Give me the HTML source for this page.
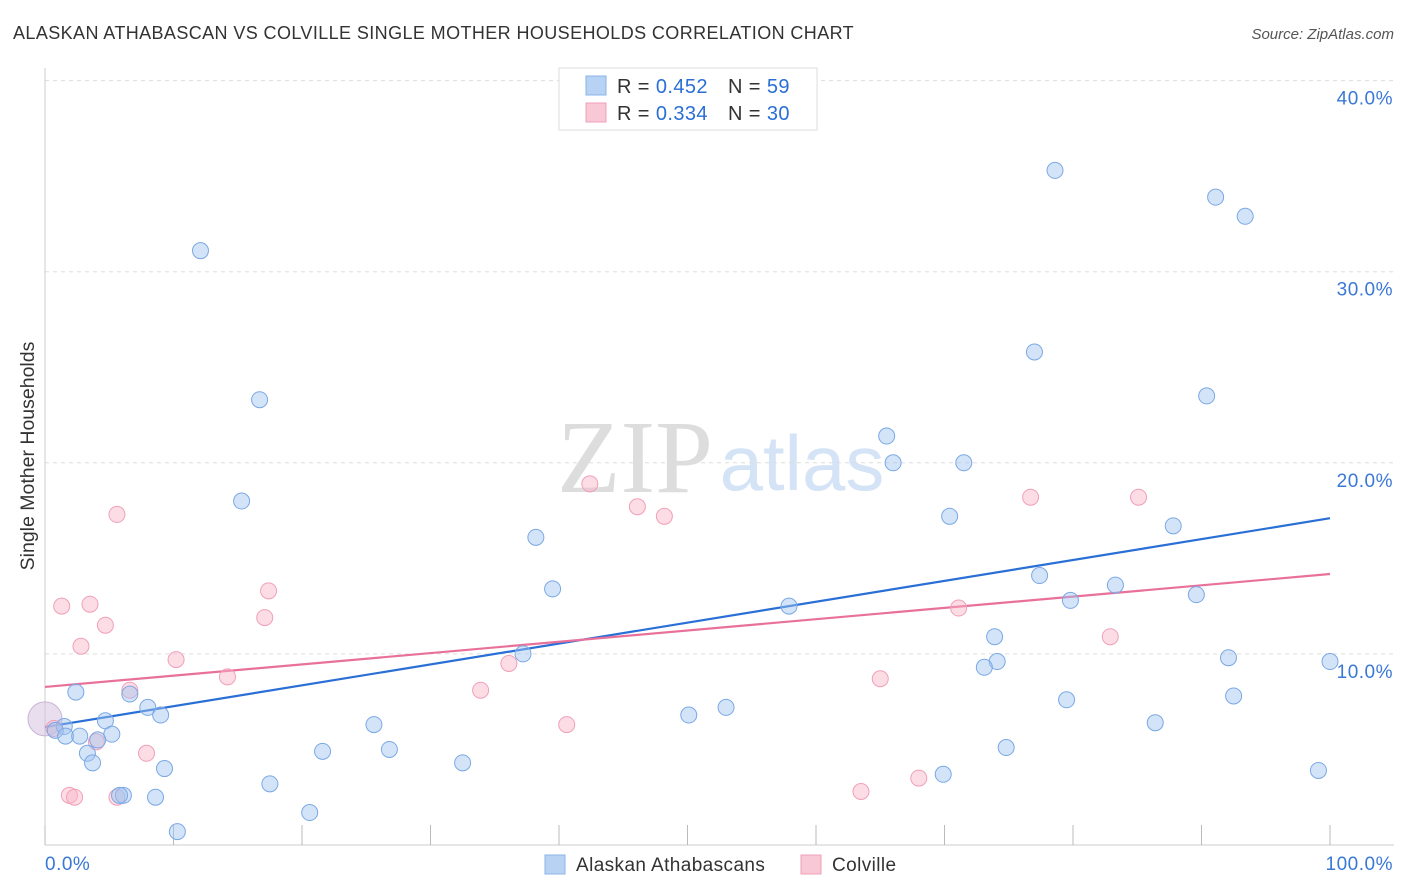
<!DOCTYPE html>
<html><head><meta charset="utf-8">
<style>
body{margin:0;background:#fff;font-family:"Liberation Sans",sans-serif;}
#wrap{position:relative;width:1406px;height:892px;overflow:hidden;}
</style></head>
<body>
<div id="wrap">
<svg id="chart" width="1406" height="892">
<text x="13" y="39" font-size="18" letter-spacing="0.4" fill="#333">ALASKAN ATHABASCAN VS COLVILLE SINGLE MOTHER HOUSEHOLDS CORRELATION CHART</text>
<text x="1394" y="39" font-size="15" fill="#555" text-anchor="end" font-style="italic">Source: ZipAtlas.com</text>
<text transform="translate(34,456) rotate(-90)" font-size="19.5" fill="#333" text-anchor="middle">Single Mother Households</text>
<text x="635" y="492" font-size="104" fill="#ddd" font-family="Liberation Serif,serif" text-anchor="middle">ZIP</text>
<text x="802" y="490" font-size="78" fill="#d4e3f5" text-anchor="middle">atlas</text>
<g id="grid"></g>
<g id="axes"></g>
<g id="trends"></g>
<g id="points"></g>
<g>
<rect x="559" y="68" width="258" height="62" fill="#fff" stroke="#ddd"/>
<rect x="586" y="76" width="20" height="19" fill="#b8d2f4" stroke="#8ab4e8"/>
<rect x="586" y="103" width="20" height="19" fill="#f9c8d6" stroke="#f0a0b8"/>
<text x="617" y="93" font-size="20" letter-spacing="0.4" fill="#333">R = <tspan fill="#2a6fd6">0.452</tspan></text>
<text x="728" y="93" font-size="20" letter-spacing="0.4" fill="#333">N = <tspan fill="#2a6fd6"> 59</tspan></text>
<text x="617" y="120" font-size="20" letter-spacing="0.4" fill="#333">R = <tspan fill="#2a6fd6">0.334</tspan></text>
<text x="728" y="120" font-size="20" letter-spacing="0.4" fill="#333">N = <tspan fill="#2a6fd6">30</tspan></text>
</g>
<g>
<rect x="545" y="855" width="20" height="19" fill="#b8d2f4" stroke="#8ab4e8"/>
<text x="576" y="871" font-size="19" letter-spacing="0.4" fill="#333">Alaskan Athabascans</text>
<rect x="801" y="855" width="20" height="19" fill="#f9c8d6" stroke="#f0a0b8"/>
<text x="832" y="871" font-size="19" letter-spacing="0.4" fill="#333">Colville</text>
</g>
</svg>
</div>
<script>
const yTicks=[10,20,30,40];
const yTickLabels=["10.0%","20.0%","30.0%","40.0%"];
const xTickLabels=["0.0%","100.0%"];
const blueX=[12.1,16.7,15.3,78.6,91.1,93.4,77.0,90.4,65.5,66.0,71.5,70.4,38.2,87.8,39.5,77.4,83.3,79.8,89.6,57.9,73.9,37.2,74.1,73.1,92.1,100,2.4,6.6,8.0,9.0,79.5,92.5,53.0,50.1,4.7,1.5,0.8,1.6,2.7,5.2,4.1,3.3,25.6,21.6,26.8,74.8,86.4,3.7,32.5,9.3,69.9,99.1,17.5,6.1,5.8,8.6,20.6,10.3];
const blueY=[31.1,23.3,18.0,35.3,33.9,32.9,25.8,23.5,21.4,20.0,20.0,17.2,16.1,16.7,13.4,14.1,13.6,12.8,13.1,12.5,10.9,10.0,9.6,9.3,9.8,9.6,8.0,7.9,7.2,6.8,7.6,7.8,7.2,6.8,6.5,6.2,6.0,5.7,5.7,5.8,5.5,4.8,6.3,4.9,5.0,5.1,6.4,4.3,4.3,4.0,3.7,3.9,3.2,2.6,2.6,2.5,1.7,0.7];
const pinkX=[42.4,46.1,48.2,5.6,76.7,85.1,1.3,3.5,17.4,4.7,17.1,2.8,71.1,82.9,10.2,36.1,14.2,65.0,33.9,6.6,40.6,7.9,4.0,0.7,68.0,63.5,1.9,2.3,5.6];
const pinkY=[18.9,17.7,17.2,17.3,18.2,18.2,12.5,12.6,13.3,11.5,11.9,10.4,12.4,10.9,9.7,9.5,8.8,8.7,8.1,8.1,6.3,4.8,5.4,6.1,3.5,2.8,2.6,2.5,2.5];
const bigPoint=[0,6.6];
const blueTrend=[6.17,17.1];
const pinkTrend=[8.27,14.18];
const NS="http://www.w3.org/2000/svg";
function sx(v){return 45+v*12.85;}
function sy(v){return 845-v*19.11;}
function mk(tag,attrs,parent){const e=document.createElementNS(NS,tag);for(const k in attrs)e.setAttribute(k,attrs[k]);parent.appendChild(e);return e;}
const grid=document.getElementById('grid'),axes=document.getElementById('axes'),trends=document.getElementById('trends'),pts=document.getElementById('points');
yTicks.forEach((t,i)=>{
 const l=mk('line',{x1:45,x2:1394,y1:sy(t),y2:sy(t),stroke:'#ddd','stroke-dasharray':'4,4'},grid);
 
 
 const tx=mk('text',{x:1393,y:sy(t)+24,'font-size':19,'letter-spacing':0.5,fill:'#3a78d6','text-anchor':'end'},grid);
 tx.textContent=yTickLabels[i];
 
 
});
const ax=mk('line',{x1:45,x2:1394,y1:845,y2:845,stroke:'#ccc'},axes);


const ay=mk('line',{x1:45,x2:45,y1:68,y2:845,stroke:'#ccc'},axes);


for(let i=0;i<=10;i++){
 const t=mk('line',{x1:sx(i*10),x2:sx(i*10),y1:825,y2:845,stroke:'#bbb'},axes);
 
 
}
[[0,'start',45],[1,'end',1393]].forEach(([i,a,x])=>{
 const tx=mk('text',{x:x,y:870,'font-size':19,'letter-spacing':0.5,fill:'#3a78d6','text-anchor':a},axes);
 tx.textContent=xTickLabels[i];
 
 
});
const bl=mk('line',{x1:sx(0),y1:sy(blueTrend[0]),x2:sx(100),y2:sy(blueTrend[1]),stroke:'#2a6fd6','stroke-width':2.2},trends);


const pl=mk('line',{x1:sx(0),y1:sy(pinkTrend[0]),x2:sx(100),y2:sy(pinkTrend[1]),stroke:'#e8709a','stroke-width':2.2},trends);


const bg=mk('circle',{cx:sx(bigPoint[0]),cy:sy(bigPoint[1]),r:17,fill:'rgba(210,190,220,0.5)',stroke:'#c9b4d8'},pts);


pinkX.forEach((x,i)=>{
 const c=mk('circle',{cx:sx(x),cy:sy(pinkY[i]),r:8,fill:'rgba(248,180,200,0.45)',stroke:'#f0a0b8','stroke-width':1},pts);
 
 
});
blueX.forEach((x,i)=>{
 const c=mk('circle',{cx:sx(x),cy:sy(blueY[i]),r:8,fill:'rgba(160,196,240,0.45)',stroke:'#7aa8e4','stroke-width':1},pts);
 
 
});
</script>
</body></html>
